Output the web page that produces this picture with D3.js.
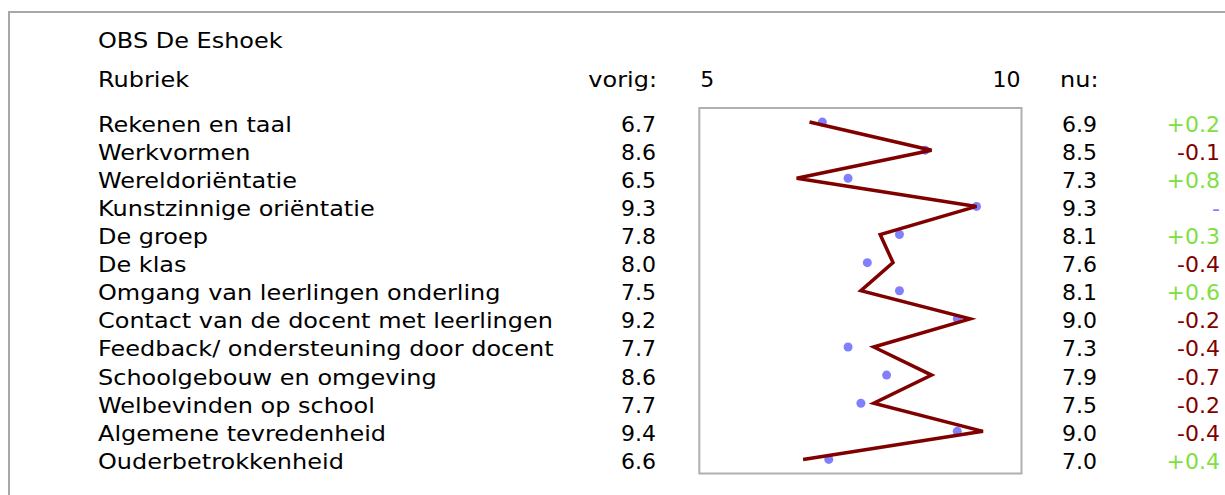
<!DOCTYPE html>
<html><head><meta charset="utf-8">
<script src="https://cdn.jsdelivr.net/npm/d3@7"></script>
<style>body{margin:0;background:#fff;} text{font-family:"DejaVu Sans",Verdana,sans-serif;}</style>
</head><body><svg id="c" width="1225" height="495"></svg>
<script>
const title = "OBS De Eshoek";
const headers = {label:"Rubriek", prev:"vorig:", now:"nu:"};
const categories = ["Rekenen en taal","Werkvormen","Wereldoriëntatie","Kunstzinnige oriëntatie","De groep","De klas","Omgang van leerlingen onderling","Contact van de docent met leerlingen","Feedback/ ondersteuning door docent","Schoolgebouw en omgeving","Welbevinden op school","Algemene tevredenheid","Ouderbetrokkenheid"];
const vorig = [6.7,8.6,6.5,9.3,7.8,8.0,7.5,9.2,7.7,8.6,7.7,9.4,6.6];
const nu = [6.9,8.5,7.3,9.3,8.1,7.6,8.1,9.0,7.3,7.9,7.5,9.0,7.0];
const scaleTicks = [5,10];

const svg = d3.select("#c");
const FS = 22, SX = 1.09;
svg.append("rect").attr("x",9).attr("y",12).attr("width",1300).attr("height",600)
  .attr("fill","none").attr("stroke","#a8a8a8").attr("stroke-width",2);

const x = d3.scaleLinear().domain([5,10]).range([700.3,1021.5]);
const y = d3.scaleBand().domain(categories).range([108,473.5]).padding(0);
const cy = c => y(c)+y.bandwidth()/2;
const data = categories.map((c,i)=>({c, v:vorig[i], n:nu[i], d:Math.round((nu[i]-vorig[i])*10)/10}));

function wide(px, py, txt, anchor){
  const g = svg.append("g").attr("transform",`translate(${px},${py}) scale(${SX},1)`);
  g.append("text").attr("font-size",FS).attr("text-anchor",anchor||"start").text(txt);
}
wide(98,48,title);
wide(98,87,headers.label);
wide(657,87,headers.prev,"end");
wide(1060,87,headers.now);
svg.selectAll(".tk").data(scaleTicks).enter().append("text")
  .attr("x",(d,i)=> i===0 ? x(d) : x(d)-1).attr("y",87).attr("font-size",FS)
  .attr("text-anchor",(d,i)=> i===0?"start":"end").text(d=>d);

// box
svg.append("rect").attr("x",x(5)-1).attr("y",y.range()[0]).attr("width",x(10)-x(5)+1)
  .attr("height",y.range()[1]-y.range()[0]).attr("fill","none").attr("stroke","#b0b0b0").attr("stroke-width",2);

data.forEach(d=> wide(98, cy(d.c)+9.5, d.c));
const rows = svg.selectAll(".row").data(data).enter().append("g");
rows.append("text").attr("x",656).attr("y",d=>cy(d.c)+9.5).attr("font-size",FS).attr("text-anchor","end").text(d=>d.v.toFixed(1));
rows.append("text").attr("x",1062).attr("y",d=>cy(d.c)+9.5).attr("font-size",FS).text(d=>d.n.toFixed(1));
rows.append("text").attr("x",1220).attr("y",d=>cy(d.c)+9.5).attr("font-size",FS).attr("text-anchor","end")
  .attr("fill",d=> d.d>0?"#80e040":(d.d<0?"#800000":"#8080ff"))
  .text(d=> d.d>0?"+"+d.d.toFixed(1):(d.d<0?"-"+Math.abs(d.d).toFixed(1):"-"));

// dots (current)
svg.selectAll(".dot").data(data).enter().append("circle")
  .attr("cx",d=>x(d.n)).attr("cy",d=>cy(d.c)).attr("r",4.5).attr("fill","#8080ff");
// line (previous)
svg.append("path").datum(data).attr("fill","none").attr("stroke","#800000").attr("stroke-width",3.5)
  .attr("stroke-linejoin","miter").attr("stroke-miterlimit",4)
  .attr("d",d3.line().x(d=>x(d.v)).y(d=>cy(d.c)));
</script></body></html>
